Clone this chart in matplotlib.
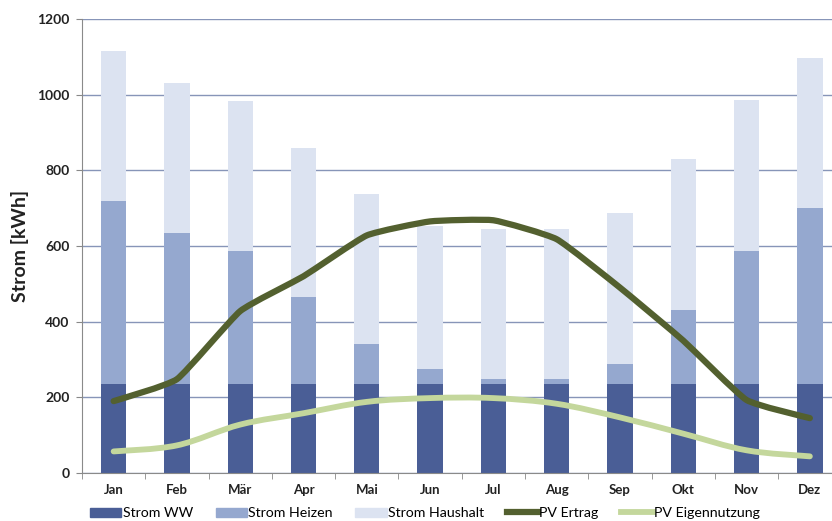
import numpy as np
import matplotlib
matplotlib.use("Agg")
from matplotlib import pyplot as plt
from matplotlib.path import Path
from matplotlib.patches import PathPatch, Patch
from matplotlib.lines import Line2D

plt.rcParams['font.family'] = ['Lato', 'DejaVu Sans']

months = ['Jan', 'Feb', 'Mär', 'Apr', 'Mai', 'Jun', 'Jul', 'Aug', 'Sep', 'Okt', 'Nov', 'Dez']
strom_ww = [236, 236, 236, 236, 236, 236, 236, 236, 236, 236, 236, 236]
strom_heizen = [484, 399, 352, 229, 105, 38, 13, 13, 53, 196, 352, 464]
strom_haushalt = [395, 397, 395, 395, 397, 380, 396, 395, 398, 398, 397, 397]
pv_ertrag = [190, 248, 428, 520, 628, 665, 668, 618, 490, 350, 193, 145]
pv_eigen = [57, 73, 128, 158, 188, 198, 198, 183, 147, 104, 60, 44]

c_ww = '#4a5e96'
c_heiz = '#95a8cf'
c_haus = '#dce3f1'
c_ertrag = '#53602f'
c_eigen = '#c4d79c'


def smooth_path(xs, ys, k=6.0):
    # smoothed line drawn as cubic Bezier segments (k sets the tension)
    pts = np.column_stack([xs, ys]).astype(float)
    n = len(pts)
    verts = [pts[0]]
    codes = [Path.MOVETO]
    for i in range(n - 1):
        p_prev = pts[i - 1] if i > 0 else pts[i]
        p_next2 = pts[i + 2] if i + 2 < n else pts[i + 1]
        c1 = pts[i] + (pts[i + 1] - p_prev) / k
        c2 = pts[i + 1] - (p_next2 - pts[i]) / k
        verts += [c1, c2, pts[i + 1]]
        codes += [Path.CURVE4] * 3
    return Path(verts, codes)


fig = plt.figure(figsize=(8.32, 5.21), dpi=100)
ax = fig.add_axes([82 / 832, 48 / 521, 759.5 / 832, 454 / 521])

x = np.arange(len(months))
w = 0.4
ww = np.array(strom_ww)
hz = np.array(strom_heizen)
ax.bar(x, ww, w, color=c_ww, zorder=2)
ax.bar(x, hz, w, bottom=ww, color=c_heiz, zorder=2)
ax.bar(x, strom_haushalt, w, bottom=ww + hz, color=c_haus, zorder=2)

ax.add_patch(PathPatch(smooth_path(x, pv_ertrag, 14.0), fill=False, edgecolor=c_ertrag,
                       lw=4.5, capstyle='round', joinstyle='round', zorder=3))
ax.add_patch(PathPatch(smooth_path(x, pv_eigen, 6.0), fill=False, edgecolor=c_eigen,
                       lw=4.2, capstyle='round', joinstyle='round', zorder=3))

ax.set_xlim(-0.5, 11.5)
ax.set_ylim(0, 1200)
ax.set_yticks(range(0, 1201, 200))
ax.set_xticks(x)
ax.set_xticklabels(months, fontweight='bold', fontsize=9.5, color='#222222')
ax.set_xticks(np.arange(-0.5, 12, 1), minor=True)
ax.tick_params(axis='x', which='major', length=0, pad=8)
ax.tick_params(axis='x', which='minor', length=4, color='#888888', direction='out')
ax.tick_params(axis='y', length=4, color='#888888', labelsize=10, labelcolor='#222222', pad=5)
for lbl in ax.get_yticklabels():
    lbl.set_fontweight('bold')
ax.yaxis.grid(True, color='#8795b8', lw=1.0, zorder=0)
ax.set_axisbelow(True)
for s in ['top', 'right']:
    ax.spines[s].set_visible(False)
ax.spines['left'].set_color('#8a8a8a')
ax.spines['bottom'].set_color('#8a8a8a')
ax.set_ylabel('Strom [kWh]', fontsize=14, fontweight='bold', color='#222222', labelpad=6)

handles = [Patch(color=c_ww), Patch(color=c_heiz), Patch(color=c_haus),
           Line2D([], [], color=c_ertrag, lw=4.5), Line2D([], [], color=c_eigen, lw=4.2)]
names = ['Strom WW', 'Strom Heizen', 'Strom Haushalt', 'PV Ertrag', 'PV Eigennutzung']
ax.legend(handles, names, ncol=5, loc='center', bbox_to_anchor=((425 - 82) / 759.5, -40 / 454),
          frameon=False, fontsize=10.2, handlelength=2.2, handleheight=0.6, handletextpad=0.1,
          columnspacing=1.6, borderaxespad=0)

fig.savefig('out.png', dpi=100)
